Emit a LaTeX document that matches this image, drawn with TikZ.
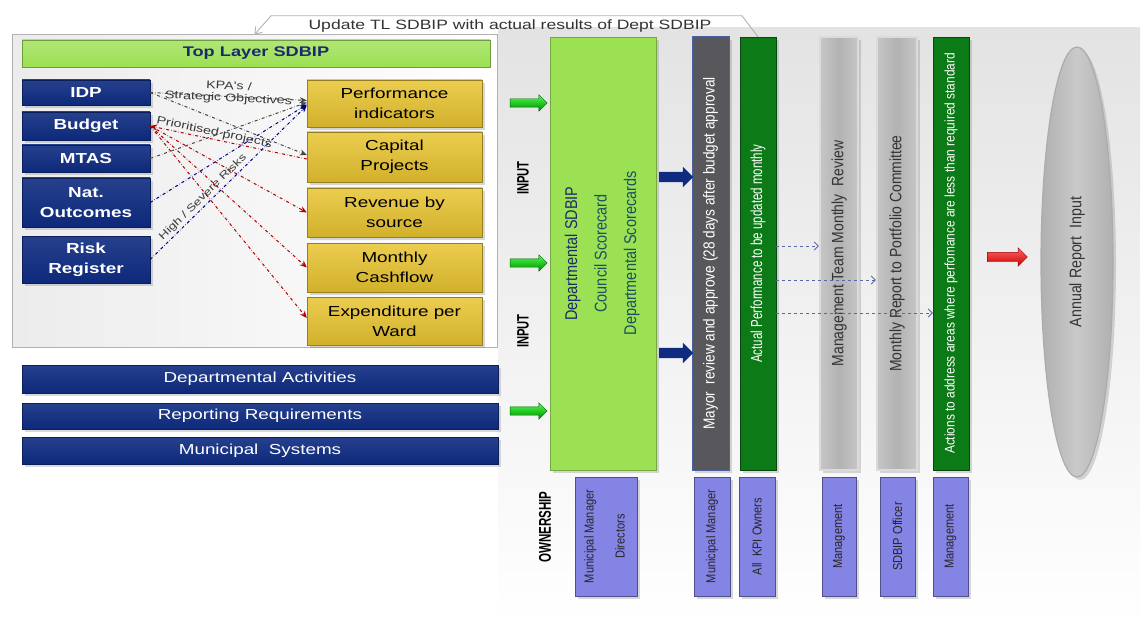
\documentclass[tikz,border=0pt]{standalone}
\usepackage{fontspec}
\setmainfont{Liberation Sans}
\newfontfamily\widefont[FakeStretch=1.3]{Liberation Sans}
\newfontfamily\narrowfont[FakeStretch=0.85]{Liberation Sans}
\newfontfamily\slimfont[FakeStretch=0.72]{Liberation Sans}
\newfontfamily\condfont[FakeStretch=0.68]{Liberation Sans}
\usepackage{tikz}
\usetikzlibrary{positioning,shapes,arrows.meta,fit,shadows}

\definecolor{sdnavy}{HTML}{0E2B80}
\definecolor{sdyellow}{HTML}{E8C430}
\definecolor{sdlime}{HTML}{9CE053}
\definecolor{sdgreen}{HTML}{0C7A16}
\definecolor{sdslate}{HTML}{58585C}
\definecolor{sdlilac}{HTML}{8484E4}
\definecolor{sdink}{HTML}{1C2A6C}
\definecolor{sdteal}{HTML}{1E5060}

\newcommand{\fsz}[2]{\fontsize{#1}{#2}\selectfont}

\begin{document}
\begin{tikzpicture}[x=1pt,y=-1pt,
    every node/.style={inner sep=0pt, align=center},
    wh/.style 2 args={minimum width=#1, minimum height=#2},
    shdw/.style={drop shadow={shadow xshift=3pt, shadow yshift=-3pt, opacity=.3}},
    navybox/.style={rectangle, draw=sdnavy!70!black, top color=sdnavy!90!white, bottom color=sdnavy!95!black, text=white, shdw},
    goldbox/.style={rectangle, draw=sdyellow!65!black, top color=sdyellow!85!white, bottom color=sdyellow!90!black, font=\widefont\fsz{14.5}{20}, shdw},
    colbox/.style={rectangle, minimum height=433, shdw},
    graycol/.style={colbox, draw=gray!28, line width=2.5pt, left color=gray!45, right color=gray!45, middle color=gray!60, text=black!80, font=\narrowfont\fsz{16.4}{18}},
    greencol/.style={colbox, draw=sdgreen!60!black, fill=sdgreen, text=white},
    ownbox/.style={rectangle, draw=sdlilac!60!black, fill=sdlilac, minimum height=119, text=black!85, font=\narrowfont\fsz{13}{15}, shdw},
    inarrow/.style={single arrow, inner sep=4pt, single arrow head extend=4pt, minimum height=37, draw=green!40!black, top color=green!70!white, bottom color=green!55!black},
    navyarrow/.style={single arrow, inner sep=5pt, single arrow head extend=5pt, minimum height=34, fill=sdnavy},
    redarrow/.style={single arrow, inner sep=4.5pt, single arrow head extend=4.5pt, minimum height=40, top color=red!60!white, bottom color=red!80!black, draw=red!60!black},
    kpa/.style={dash dot, line width=1pt, -{Stealth[length=7pt,width=6pt]}},
    kpatext/.style={font=\widefont\fsz{11}{12}, text=gray!45!black},
    feed/.style={dashed, sdnavy!70!white, line width=.8pt, -{Straight Barb[length=4pt,width=8pt]}},
    vlabel/.style={rotate=90, font=\condfont\bfseries\fsz{16.5}{18}}]

  \useasboundingbox (0,0) rectangle (1145,639);
  \shade[top color=gray!22, bottom color=white] (498,28) rectangle (1140,625);

  % top layer block
  \node[rectangle, draw=gray!60, line width=1pt, left color=gray!15, right color=white, wh={485}{312}] (tlframe) at (254.5,191) {};
  \node[rectangle, draw=sdlime!70!black, top color=sdlime!80!white, bottom color=sdlime, wh={468}{27}, font=\widefont\bfseries\fsz{14}{16}, text=sdink] (toplayer) at (256,53.5) {Top Layer SDBIP};

  \begin{scope}[every node/.append style={font=\widefont\bfseries\fsz{14.5}{20}}]
    \node[navybox, wh={128}{25}] (idp) at (86,92.5) {IDP};
    \node[navybox, wh={128}{28}] (budget) at (86,126) {Budget};
    \node[navybox, wh={128}{27}] (mtas) at (86,158.5) {MTAS};
    \node[navybox, wh={128}{49}] (natout) at (86,202.5) {Nat.\\Outcomes};
    \node[navybox, wh={128}{47}] (risk) at (86,259.5) {Risk\\Register};
  \end{scope}

  \node[goldbox, wh={175}{47}] (perf) at (394.5,103.5) {Performance\\indicators};
  \node[goldbox, wh={175}{50}] (cap) at (394.5,157) {Capital\\Projects};
  \node[goldbox, wh={175}{49}] (rev) at (394.5,212.5) {Revenue by\\source};
  \node[goldbox, wh={175}{49}] (cash) at (394.5,267.5) {Monthly\\Cashflow};
  \node[goldbox, wh={175}{48}] (expw) at (394.5,321) {Expenditure per\\Ward};

  % links into the scorecard items
  \draw[kpa, gray!55!black] (idp.east) -- ([yshift=3pt]perf.west)
    node[midway, yshift=4pt, sloped, kpatext] {KPA's /\\Strategic Objectives};
  \draw[kpa, gray!55!black] (idp.east) -- ([yshift=2pt]cap.west);
  \draw[kpa, gray!55!black] (mtas.east) -- ([yshift=1pt]perf.west);
  \draw[kpa, blue!55!black] (natout.east) -- ([yshift=-1pt]perf.west);
  \draw[kpa, blue!55!black] (risk.east) -- ([yshift=-2pt]perf.west)
    node[pos=.37, above=2pt, sloped, kpatext, font=\widefont\fsz{10.3}{12}] {High / Severe Risks};
  \draw[kpa, red!70!black] ([yshift=-2pt]cap.west) -- (budget.east)
    node[pos=.6, above=1pt, sloped, kpatext] {Prioritised projects};
  \draw[kpa, red!70!black] (budget.east) -- (rev.west);
  \draw[kpa, red!70!black] (budget.east) -- (cash.west);
  \draw[kpa, red!70!black] (budget.east) -- ([yshift=3pt]expw.west);

  \begin{scope}[every node/.append style={font=\widefont\fsz{14.5}{16}}]
    \node[navybox, wh={476}{28}] (deptact) at (260,379) {Departmental Activities};
    \node[navybox, wh={476}{26}] (repreq) at (260,416) {Reporting Requirements};
    \node[navybox, wh={476}{27}] (munsys) at (260,450.5) {Municipal~ Systems};
  \end{scope}

  % inputs
  \node[inarrow] (in1) at (526.5,103) {};
  \node[inarrow] (in2) at (526.5,263) {};
  \node[inarrow] (in3) at (526.5,411) {};
  \node[vlabel] (inlbl1) at (523,178) {INPUT};
  \node[vlabel] (inlbl2) at (523,331) {INPUT};

  % process columns
  \node[colbox, draw=sdlime!75!black, fill=sdlime, minimum width=106, font=\narrowfont\fsz{17}{17}] (dept) at (603,253.5)
    {\rotatebox{90}{\begin{tabular}{@{}c@{}}\color{sdink}Departmental SDBIP\\[12pt]
      \color{sdteal}Council Scorecard\\[12pt]\color{sdteal}Departmental Scorecards\end{tabular}}};
  \node[colbox, draw=sdnavy!75, line width=1pt, fill=sdslate, minimum width=37, text=white, font=\narrowfont\fsz{16}{18}] (mayor) at (710.5,253.5)
    {\rotatebox{90}{Mayor~ review and approve (28 days after budget approval}};
  \node[greencol, minimum width=36, font=\slimfont\fsz{16}{18}] (act) at (758,253.5) {\rotatebox{90}{Actual Performance to be updated monthly}};
  \node[graycol, minimum width=38] (mgmt) at (839,253.5) {\rotatebox{90}{Management Team Monthly~ Review}};
  \node[graycol, minimum width=40] (port) at (897,253.5) {\rotatebox{90}{Monthly Report to Portfolio Committee}};
  \node[greencol, minimum width=36, font=\narrowfont\fsz{14}{16}] (actions) at (951,253.5)
    {\rotatebox{90}{Actions to address areas where perfomance are less than required standard}};

  \node[navyarrow] (na1) at (673.5,177) {};
  \node[navyarrow] (na2) at (673.5,353) {};
  \node[redarrow] (ra) at (1005,257) {};

  \node[ellipse, draw=gray!65, line width=1.2pt, left color=gray!62, right color=gray!62, middle color=gray!42,
        wh={72}{430}, text=black!80, font=\narrowfont\fsz{16.7}{18}, shdw] (annual) at (1077,262)
    {\rotatebox{90}{Annual Report~ Input}};

  % monthly reporting
  \draw[feed] ([yshift=7.5pt]act.east) -- ([yshift=7.5pt]mgmt.west);
  \draw[feed] ([yshift=-26.5pt]act.east) -- ([yshift=-26.5pt]port.west);
  \draw[feed] ([yshift=-59.5pt]act.east) -- ([yshift=-59.5pt]actions.west);

  % feedback to the top layer
  \draw[gray!60, line width=.9pt, -{Straight Barb[length=6pt,width=9pt]}]
    (act.north) -- ++(-16,-21) -- ++(-471,0) -- (tlframe.north);
  \node[font=\widefont\fsz{13.5}{15}, text=black!80] (updlbl) at (510,26) {Update TL SDBIP with actual results of Dept SDBIP};

  % ownership
  \node[vlabel, font=\condfont\bfseries\fsz{17}{18}] (ownlbl) at (545,527) {OWNERSHIP};
  \node[ownbox, minimum width=62] (own1) at (606,536.5)
    {\rotatebox{90}{\begin{tabular}{@{}c@{}}Municipal Manager\\[16pt]Directors\end{tabular}}};
  \node[ownbox, minimum width=36] (own2) at (712,536.5) {\rotatebox{90}{Municipal Manager}};
  \node[ownbox, minimum width=36] (own3) at (757,536.5) {\rotatebox{90}{All~ KPI Owners}};
  \node[ownbox, minimum width=34] (own4) at (839,536.5) {\rotatebox{90}{Management}};
  \node[ownbox, minimum width=35] (own5) at (897.5,536.5) {\rotatebox{90}{SDBIP Officer}};
  \node[ownbox, minimum width=35] (own6) at (950.5,536.5) {\rotatebox{90}{Management}};
\end{tikzpicture}
\end{document}
